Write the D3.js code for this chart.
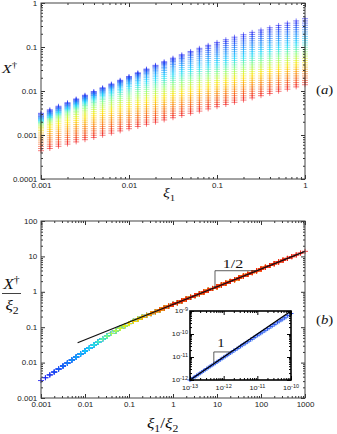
<!DOCTYPE html>
<html>
<head>
<meta charset="utf-8">
<script src="https://cdn.jsdelivr.net/npm/d3@7"></script>
<style>
body { margin: 0; background: #fff; }
svg { display: block; }
.tick text { font-family: "Liberation Sans", Arial, sans-serif; fill: #222; }
.math { font-family: "Liberation Serif", "Times New Roman", serif; fill: #111; }
</style>
</head>
<body>
<div id="chart"></div>
<script>
// xi1 values (columns of panel a), 10 per decade
var xi1 = [0.001, 0.00126, 0.00158, 0.002, 0.00251, 0.00316, 0.00398, 0.00501, 0.00631, 0.00794,
    0.01, 0.0126, 0.0158, 0.02, 0.0251, 0.0316, 0.0398, 0.0501, 0.0631, 0.0794,
    0.1, 0.126, 0.158, 0.2, 0.251, 0.316, 0.398, 0.501, 0.631, 0.794, 1];
// xi2 values, one per coloured series (blue -> red)
var xi2 = [1, 0.794, 0.631, 0.501, 0.398, 0.316, 0.251, 0.2, 0.158, 0.126,
    0.1, 0.0794, 0.0631, 0.0501, 0.0398, 0.0316, 0.0251, 0.02, 0.0158, 0.0126,
    0.01, 0.00794, 0.00631, 0.00501, 0.00398, 0.00316, 0.00251, 0.002, 0.00158, 0.00126, 0.001];
// collapsed curve X†/xi2, at xi1/xi2 = 0.001 ... 1000
var collapseF = [0.00311, 0.00374, 0.00450, 0.00541, 0.00658, 0.00800, 0.00973, 0.0118, 0.0144, 0.0175,
    0.0213, 0.0259, 0.0315, 0.0383, 0.0462, 0.0556, 0.0665, 0.0791, 0.0933, 0.109,
    0.127, 0.146, 0.167, 0.190, 0.215, 0.243, 0.274, 0.309, 0.348, 0.391,
    0.440, 0.493, 0.553, 0.621, 0.697, 0.782, 0.877, 0.984, 1.10, 1.24,
    1.39, 1.56, 1.75, 1.96, 2.20, 2.47, 2.77, 3.11, 3.49, 3.92,
    4.40, 4.93, 5.53, 6.21, 6.97, 7.82, 8.77, 9.84, 11.0, 12.4, 13.9];

// slope 1/2 guide line and its triangle
var fitX = [0.0068, 1000];
var fitY = [0.0363, 13.9];
var triX = [9, 9, 80];
var triY = [1.32, 3.94, 3.94];

// inset (log10 values)
var insetLogXA = [-13.0, -12.9, -12.8, -12.7, -12.6, -12.5, -12.4, -12.3, -12.2, -12.1, -12.0,
    -11.9, -11.8, -11.7, -11.6, -11.5, -11.4, -11.3, -11.2, -11.1, -11.0,
    -10.9, -10.8, -10.7, -10.6, -10.5, -10.4, -10.3, -10.2, -10.1, -10.0];
var insetLogYA = [-12.00, -11.90, -11.80, -11.70, -11.60, -11.50, -11.40, -11.31, -11.21, -11.11, -11.01,
    -10.92, -10.82, -10.72, -10.63, -10.53, -10.43, -10.34, -10.24, -10.15, -10.05,
    -9.96, -9.86, -9.77, -9.67, -9.58, -9.48, -9.39, -9.30, -9.20, -9.11];
var insetLogXB = [-12.95, -12.85, -12.75, -12.65, -12.55, -12.45, -12.35, -12.25, -12.15, -12.05,
    -11.95, -11.85, -11.75, -11.65, -11.55, -11.45, -11.35, -11.25, -11.15, -11.05,
    -10.95, -10.85, -10.75, -10.65, -10.55, -10.45, -10.35, -10.25, -10.15, -10.05];
var insetLogYB = [-11.97, -11.87, -11.77, -11.67, -11.57, -11.47, -11.38, -11.28, -11.18, -11.09,
    -10.99, -10.89, -10.80, -10.70, -10.61, -10.51, -10.42, -10.32, -10.23, -10.13,
    -10.04, -9.94, -9.85, -9.75, -9.66, -9.57, -9.47, -9.38, -9.29, -9.19];
var insetFitX = [1e-13, 1e-10];
var insetFitY = [1e-12, 1e-9];
var insetTriX = [5.1e-13, 5.1e-13, 1.66e-12];
var insetTriY = [5.1e-12, 1.66e-11, 1.66e-11];

// tick labels
var xLabelsA = ["0.001", "0.01", "0.1", "1"];
var yLabelsA = ["0.0001", "0.001", "0.01", "0.1", "1"];
var xLabelsB = ["0.001", "0.01", "0.1", "1", "10", "100", "1000"];
var yLabelsB = ["0.001", "0.01", "0.1", "1", "10", "100"];
var insetXExp = ["-13", "-12", "-11", "-10"];
var insetYExp = ["-12", "-11", "-10", "-9"];

var stretch = 1.23;
var jet = d3.scaleLinear()
    .domain([0, 0.35, 0.5, 0.65, 1])
    .range(["#1414f0", "#14dcff", "#8cff78", "#ffe800", "#f01414"]);

var svg = d3.select("#chart").append("svg")
    .attr("width", 337)
    .attr("height", 434);

function decades(lo, hi) {
    var out = [];
    for (var e = lo; e <= hi; e++) out.push(Math.pow(10, e));
    return out;
}
function minors(lo, hi) {
    var out = [];
    for (var e = lo; e < hi; e++)
        for (var m = 2; m < 10; m++) out.push(m * Math.pow(10, e));
    return out;
}

// ticks on all four sides, pointing in
function frame(g, x, y, xr, yr, xLab, yLab, big, small, fs, pad) {
    var w = x.range()[1], h = y.range()[0];
    var xMaj = decades(xr[0], xr[1]), yMaj = decades(yr[0], yr[1]);
    var xMin = minors(xr[0], xr[1]), yMin = minors(yr[0], yr[1]);

    g.append("g").attr("transform", `translate(0,${h})`)
        .call(d3.axisBottom(x).tickValues(xMaj).tickSize(-big).tickPadding(pad + 1)
            .tickFormat((d, i) => xLab ? xLab[i] : ""));
    g.append("g").attr("transform", `translate(0,${h})`)
        .call(d3.axisBottom(x).tickValues(xMin).tickSize(-small).tickFormat(""));
    g.append("g").call(d3.axisTop(x).tickValues(xMaj).tickSize(-big).tickFormat(""));
    g.append("g").call(d3.axisTop(x).tickValues(xMin).tickSize(-small).tickFormat(""));

    g.append("g")
        .call(d3.axisLeft(y).tickValues(yMaj).tickSize(-big).tickPadding(pad)
            .tickFormat((d, i) => yLab ? yLab[i] : ""));
    g.append("g").call(d3.axisLeft(y).tickValues(yMin).tickSize(-small).tickFormat(""));
    g.append("g").attr("transform", `translate(${w},0)`)
        .call(d3.axisRight(y).tickValues(yMaj).tickSize(-big).tickFormat(""));
    g.append("g").attr("transform", `translate(${w},0)`)
        .call(d3.axisRight(y).tickValues(yMin).tickSize(-small).tickFormat(""));

    g.selectAll(".domain").remove();
    g.selectAll(".tick line").attr("stroke", "#333");
    g.selectAll(".tick text").attr("font-size", fs)
        .attr("transform", `scale(${stretch},1)`);
}

function richText(parent, x, y, parts, size, anchor) {
    var t = parent.append("g")
        .attr("transform", `translate(${x},${y}) scale(${stretch},1)`)
        .append("text").attr("class", "math")
        .attr("font-size", size)
        .attr("text-anchor", anchor || "start");
    var cur = 0;
    parts.forEach(function(p) {
        var off = p.sup ? -size * 0.42 : p.sub ? size * 0.28 : 0;
        t.append("tspan").text(p.t)
            .attr("dy", off - cur)
            .attr("font-size", (p.sup || p.sub) ? size * 0.68 : size)
            .attr("font-style", p.it ? "italic" : "normal");
        cur = off;
    });
    return t;
}

var cross = "M-3,0H3M0,-2.5V2.5";

// ---------- panel (a)
var gA = svg.append("g").attr("transform", "translate(41,3)");
var xA = d3.scaleLog().domain([0.001, 1]).range([0, 264]);
var yA = d3.scaleLog().domain([1e-4, 1]).range([176, 0]);

var ptsA = [];
xi2.forEach(function(s2, s) {
    xi1.forEach(function(s1, i) {
        ptsA.push({ x: s1, y: s2 * collapseF[i + s], s: s });
    });
});
gA.append("g").selectAll("path")
    .data(ptsA)
    .enter()
    .append("path")
    .attr("d", cross)
    .attr("transform", d => `translate(${xA(d.x)},${yA(d.y)})`)
    .attr("stroke", d => jet(d.s / 30))
    .attr("stroke-opacity", 0.55)
    .attr("stroke-width", 1)
    .attr("fill", "none");

frame(gA, xA, yA, [-3, 0], [-4, 0], xLabelsA, yLabelsA, 4, 2, 6.5, 3);
gA.append("rect").attr("width", 264).attr("height", 176)
    .attr("fill", "none").attr("stroke", "#444").attr("stroke-width", 1);

richText(svg, 2, 73, [{ t: "X", it: true }, { t: "†", sup: true }], 13);
richText(svg, 163, 197, [{ t: "ξ", it: true }, { t: "1", sub: true }], 13);
richText(svg, 316, 94, [{ t: "(" }, { t: "a", it: true }, { t: ")" }], 12);

// ---------- panel (b)
var gB = svg.append("g").attr("transform", "translate(41,221)");
var xB = d3.scaleLog().domain([0.001, 1000]).range([0, 264]);
var yB = d3.scaleLog().domain([0.001, 100]).range([177, 0]);

var ptsB = [];
xi2.forEach(function(s2, s) {
    xi1.forEach(function(s1, i) {
        ptsB.push({ x: s1 / s2, y: collapseF[i + s], s: s });
    });
});
gB.append("g").selectAll("path")
    .data(ptsB)
    .enter()
    .append("path")
    .attr("d", cross)
    .attr("transform", d => `translate(${xB(d.x)},${yB(d.y)})`)
    .attr("stroke", d => jet(d.s / 30))
    .attr("stroke-opacity", 0.8)
    .attr("stroke-width", 1)
    .attr("fill", "none");

var line = d3.line();
gB.append("path")
    .attr("d", line(fitX.map((v, i) => [xB(v), yB(fitY[i])])))
    .attr("stroke", "#111").attr("stroke-width", 1.2).attr("fill", "none");
gB.append("path")
    .attr("d", line(triX.map((v, i) => [xB(v), yB(triY[i])])))
    .attr("stroke", "#333").attr("stroke-width", 0.8).attr("fill", "none");

frame(gB, xB, yB, [-3, 3], [-3, 2], xLabelsB, yLabelsB, 4, 2, 6.5, 3);
gB.append("rect").attr("width", 264).attr("height", 177)
    .attr("fill", "none").attr("stroke", "#444").attr("stroke-width", 1);

richText(svg, 233, 268, [{ t: "1/2" }], 13, "middle");

// fraction label X†/xi2
richText(svg, 11.5, 289, [{ t: "X", it: true }, { t: "†", sup: true }], 14, "middle");
svg.append("line").attr("x1", 2).attr("x2", 21).attr("y1", 293.5).attr("y2", 293.5)
    .attr("stroke", "#111").attr("stroke-width", 0.8);
richText(svg, 12, 310, [{ t: "ξ", it: true }, { t: "2", sub: true }], 14, "middle");
richText(svg, 147, 428, [{ t: "ξ", it: true }, { t: "1", sub: true }, { t: "/" }, { t: "ξ", it: true }, { t: "2", sub: true }], 14);
richText(svg, 316, 324, [{ t: "(" }, { t: "b", it: true }, { t: ")" }], 12);

// ---------- inset
var gI = svg.append("g").attr("transform", "translate(190,311)");
var xI = d3.scaleLog().domain([1e-13, 1e-10]).range([0, 101]);
var yI = d3.scaleLog().domain([1e-12, 1e-9]).range([69, 0]);

gI.append("rect").attr("width", 101).attr("height", 69).attr("fill", "#fff");

var insetA = insetLogXA.map((v, i) => ({ x: Math.pow(10, v), y: Math.pow(10, insetLogYA[i]) }));
var insetB = insetLogXB.map((v, i) => ({ x: Math.pow(10, v), y: Math.pow(10, insetLogYB[i]) }));
[[insetB, "#78aaf5"], [insetA, "#2a50f0"]].forEach(function(ser) {
    gI.append("g").selectAll("path")
        .data(ser[0])
        .enter()
        .append("path")
        .attr("d", "M-2.5,0H2.5M0,-2V2")
        .attr("transform", d => `translate(${xI(d.x)},${yI(d.y)})`)
        .attr("stroke", ser[1])
        .attr("stroke-width", 1)
        .attr("fill", "none");
});
gI.append("path")
    .attr("d", line(insetFitX.map((v, i) => [xI(v), yI(insetFitY[i])])))
    .attr("stroke", "#000").attr("stroke-width", 1.2).attr("fill", "none");
gI.append("path")
    .attr("d", line(insetTriX.map((v, i) => [xI(v), yI(insetTriY[i])])))
    .attr("stroke", "#333").attr("stroke-width", 0.8).attr("fill", "none");

frame(gI, xI, yI, [-13, -10], [-12, -9], null, null, 4, 2, 6, 3);
gI.selectAll(".tick line").attr("stroke", "#000");
gI.append("rect").attr("width", 101).attr("height", 69)
    .attr("fill", "none").attr("stroke", "#000").attr("stroke-width", 1.6);

richText(svg, 221, 347, [{ t: "1" }], 12, "middle");

// inset tick labels 10^n
decades(-13, -10).forEach(function(v, i) {
    var t = gI.append("g")
        .attr("transform", `translate(${xI(v)},${69 + 10}) scale(${stretch},1)`)
        .append("text").attr("text-anchor", "middle")
        .attr("font-family", "Liberation Sans, Arial, sans-serif")
        .attr("font-size", 6).attr("fill", "#222");
    t.append("tspan").text("10");
    t.append("tspan").text(insetXExp[i]).attr("font-size", 4.5).attr("dy", -2.5);
});
decades(-12, -9).forEach(function(v, i) {
    var t = gI.append("g")
        .attr("transform", `translate(-2,${yI(v) + 2}) scale(${stretch},1)`)
        .append("text").attr("text-anchor", "end")
        .attr("font-family", "Liberation Sans, Arial, sans-serif")
        .attr("font-size", 6).attr("fill", "#222");
    t.append("tspan").text("10");
    t.append("tspan").text(insetYExp[i]).attr("font-size", 4.5).attr("dy", -2.5);
});
</script>
</body>
</html>
